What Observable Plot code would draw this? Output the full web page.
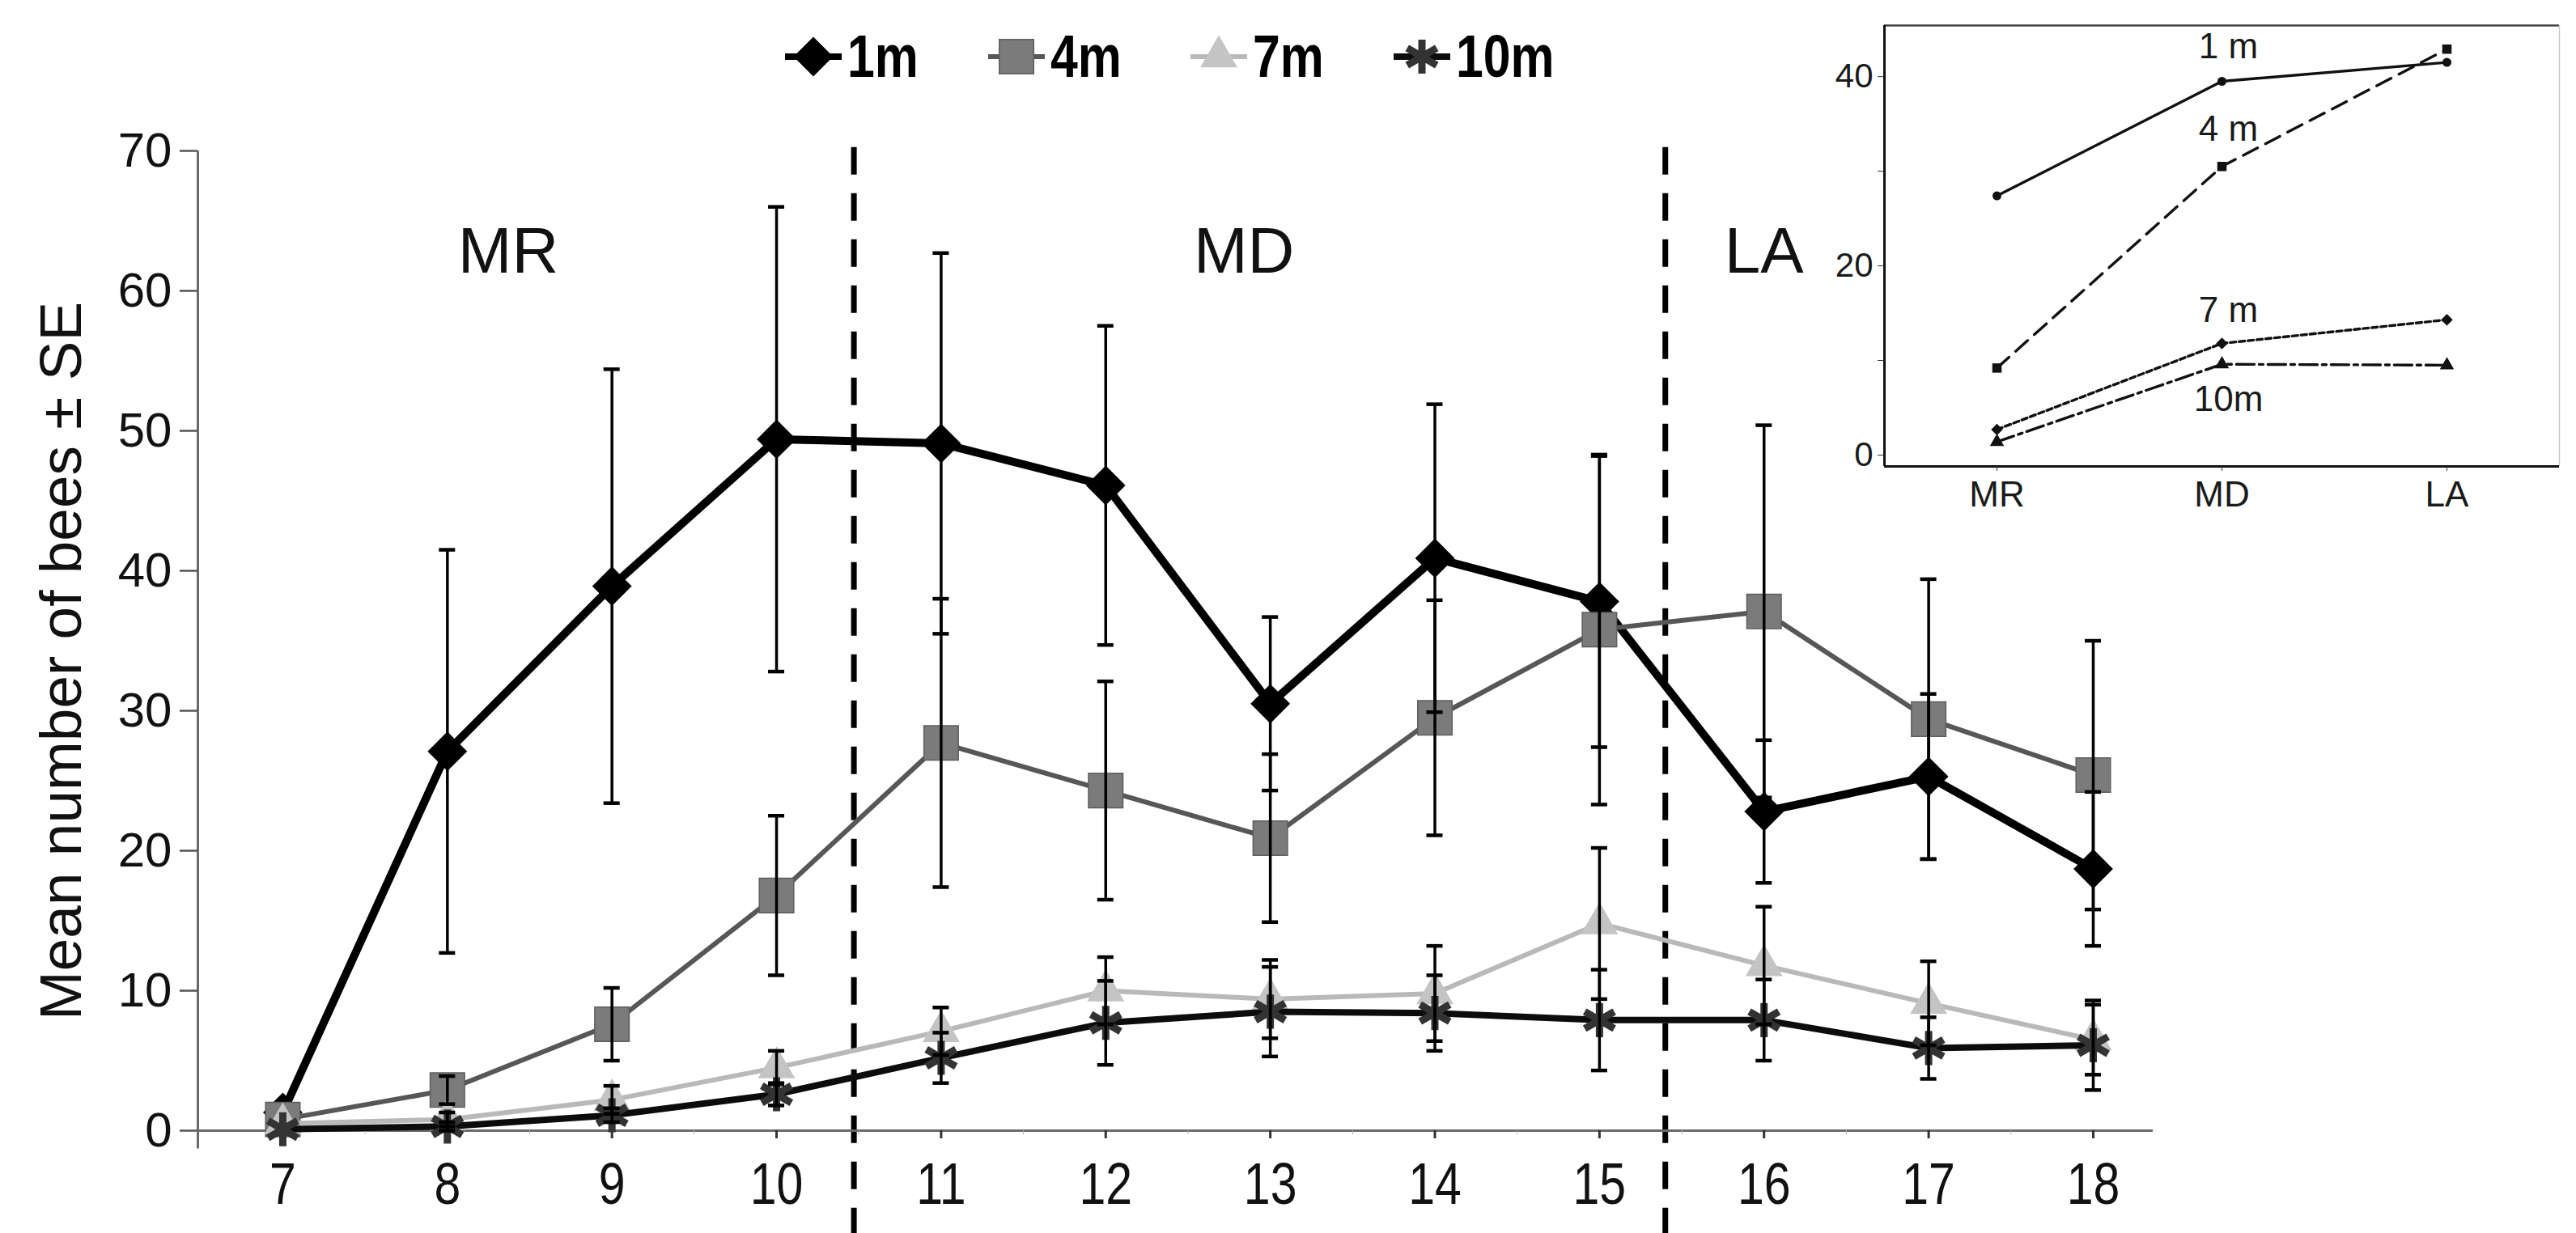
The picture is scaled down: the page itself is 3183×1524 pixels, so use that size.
<!DOCTYPE html>
<html>
<head>
<meta charset="utf-8">
<script src="https://cdn.jsdelivr.net/npm/d3@7"></script>
<script src="https://cdn.jsdelivr.net/npm/@observablehq/plot@0.6"></script>
<style>
html, body { margin: 0; padding: 0; background: #fff; }
#wrap { position: relative; width: 3183px; height: 1524px; overflow: hidden; background: #fff;
  font-family: "Liberation Sans", Arial, sans-serif; }
#main { position: absolute; left: 0; top: 0; }
#inset { position: absolute; left: 2200px; top: 0; }
#legend { position: absolute; left: 970px; top: 20px; display: flex; align-items: center; gap: 86px; }
.item { display: flex; align-items: center; }
.item span { display: inline-block; font-family: "Liberation Sans", Arial, sans-serif; font-weight: bold;
  font-size: 74px; line-height: 100px; margin-left: 7px; color: #000;
  transform: scaleX(0.82); transform-origin: left center; }
</style>
</head>
<body>
<div id="wrap">
  <div id="main"></div>
  <div id="inset"></div>
  <div id="legend"></div>
</div>
<script>
// ---------- main chart data ----------
const days = [7, 8, 9, 10, 11, 12, 13, 14, 15, 16, 17, 18];
const seriesNames = ["1m", "4m", "7m", "10m"];
const mean1m  = [1.3, 27.1, 38.9, 49.4, 49.1, 46.1, 30.5, 40.9, 37.8, 22.8, 25.3, 18.7];
const se1m    = [0, 14.4, 15.5, 16.6, 13.6, 11.4, 6.2, 11.0, 10.4, 5.1, 5.9, 5.5];
const mean4m  = [0.8, 2.9, 7.6, 16.8, 27.7, 24.3, 20.9, 29.5, 35.8, 37.1, 29.4, 25.4];
const se4m    = [0, 1.0, 2.6, 5.7, 10.3, 7.8, 6.0, 8.4, 12.5, 13.3, 10.0, 9.6];
const mean7m  = [0.5, 0.8, 2.2, 4.5, 7.1, 10.0, 9.4, 9.8, 14.8, 11.8, 9.1, 6.5];
const se7m    = [0, 0.5, 1.0, 1.2, 1.7, 2.4, 2.8, 3.4, 5.4, 4.2, 3.0, 2.5];
const mean10m = [0.1, 0.3, 1.1, 2.6, 5.2, 7.7, 8.5, 8.4, 7.9, 7.9, 5.9, 6.1];
const se10m   = [0, 0.3, 0.5, 0.8, 1.8, 3.0, 3.2, 2.7, 3.6, 2.9, 2.2, 3.2];
const yTicks = [0, 10, 20, 30, 40, 50, 60, 70];
const yLabel = "Mean number of bees \u00b1 SE";
const phaseNames = ["MR", "MD", "LA"];
const phaseLabelX = [8.37, 12.84, 16.0];
const phaseLabelY = 62.8;
const phaseBreaks = [10.47, 15.4];

// ---------- inset data ----------
const periods = ["MR", "MD", "LA"];
const inset1m  = [27.4, 39.5, 41.5];
const inset4m  = [9.2, 30.5, 42.9];
const inset7m  = [2.7, 11.8, 14.3];
const inset10m = [1.4, 9.6, 9.5];
const insetNames = ["1 m", "4 m", "7 m", "10m"];
const insetLabelY = [43.1, 34.4, 15.3, 5.9];
const insetLabelAt = "MD";
const insetYTicks = [0, 10, 20, 30, 40];

// ---------- scales / layout ----------
const W = 3183, H = 1524;
const xDomain = [6.484, 18.364];
const yDomain = [0, 70];
const yAxisExtent = [-1.3, 70];
const dashExtent = [-7.5, 70.5];

const styles = {
  "1m":  {line: "#000", lw: 10,  symbol: "diamond2", r: 22, fill: "#000", stroke: "none", sw: 0},
  "4m":  {line: "#575757", lw: 6, symbol: "square", r: 24, fill: "#7b7b7b", stroke: "#5e5e5e", sw: 1.5},
  "7m":  {line: "#b9b9b9", lw: 6, symbol: "triangle", r: 17, fill: "#c4c4c4", stroke: "none", sw: 0},
  "10m": {line: "#0c0c0c", lw: 8, symbol: "asterisk", r: 20, fill: "none", stroke: "#333", sw: 9}
};

const means = {"1m": mean1m, "4m": mean4m, "7m": mean7m, "10m": mean10m};
const ses = {"1m": se1m, "4m": se4m, "7m": se7m, "10m": se10m};
const rows = [];
for (const s of seriesNames) days.forEach((d, i) => rows.push({series: s, day: d, value: means[s][i], se: ses[s][i]}));
const errRows = rows.filter(d => d.se > 0);

const seriesMarks = [];
for (const s of seriesNames) {
  const st = styles[s];
  const data = rows.filter(d => d.series === s);
  seriesMarks.push(Plot.line(data, {x: "day", y: "value", stroke: st.line, strokeWidth: st.lw, strokeLinejoin: "round"}));
  seriesMarks.push(Plot.dot(data, {x: "day", y: "value", symbol: st.symbol, r: st.r, fill: st.fill, stroke: st.stroke, strokeWidth: st.sw}));
}

const main = Plot.plot({
  width: W, height: H,
  marginLeft: 244, marginRight: W - 2660, marginTop: 186, marginBottom: H - 1397,
  x: {domain: xDomain},
  y: {domain: yDomain},
  style: {fontFamily: "Liberation Sans, Arial, sans-serif", color: "#111", background: "transparent", overflow: "visible"},
  marks: [
    Plot.ruleX(phaseBreaks, {y1: dashExtent[0], y2: dashExtent[1], stroke: "#000", strokeWidth: 7, strokeDasharray: "34,23"}),
    Plot.ruleY([0], {stroke: "#6a6a6a", strokeWidth: 3}),
    Plot.ruleX([xDomain[0]], {y1: yAxisExtent[0], y2: yAxisExtent[1], stroke: "#6a6a6a", strokeWidth: 3}),
    Plot.axisY({ticks: yTicks, tickSize: 22, tickPadding: 10, stroke: "#555", strokeWidth: 2.5, fontSize: 60, label: null}),
    Plot.text([yLabel], {frameAnchor: "left", rotate: -90, lineAnchor: "top", textAnchor: "middle", dx: -196, dy: 25, fontSize: 73,
      fill: "#111", ariaLabel: "y label"}),
    Plot.axisX({ticks: days, tickSize: 10, tickPadding: 29, stroke: "#333", strokeWidth: 3, fontSize: 72, label: null}),
    Plot.axisX({ticks: days.slice(0, -1).map(d => d + 0.5), tickSize: 5, tickFormat: () => "", stroke: "#aaa", label: null}),
    ...seriesMarks,
    Plot.ruleX(errRows, {x: "day", y1: d => d.value - d.se, y2: d => d.value + d.se, stroke: "#000", strokeWidth: 3.5}),
    Plot.ruleY(errRows, {x1: "day", x2: "day", y: d => d.value + d.se, insetLeft: -10, insetRight: -10, stroke: "#000", strokeWidth: 4.5}),
    Plot.ruleY(errRows, {x1: "day", x2: "day", y: d => d.value - d.se, insetLeft: -10, insetRight: -10, stroke: "#000", strokeWidth: 4.5}),
    Plot.text(phaseNames, {x: (d, i) => phaseLabelX[i], y: () => phaseLabelY, text: d => d, fontSize: 80,
      fill: "#111", ariaLabel: "phase label"})
  ]
});
document.getElementById("main").appendChild(main);

// narrow (condensed) look for some texts, as in the reference
function squeeze(el, sx, sy) {
  const t = el.getAttribute("transform");
  if (t) el.setAttribute("transform", t + ` scale(${sx},${sy})`);
  else {
    const x = +el.getAttribute("x") || 0, y = +el.getAttribute("y") || 0;
    el.setAttribute("transform", `translate(${x},${y}) scale(${sx},${sy}) translate(${-x},${-y})`);
  }
}
main.querySelectorAll('[aria-label="x-axis tick label"] text').forEach(el => squeeze(el, 0.82, 1));
main.querySelectorAll('[aria-label="phase label"] text').forEach(el => squeeze(el, 0.84, 1));

// ---------- inset ----------
const insetX = [-0.5, 2.5];
const insetY = [-1.2, 45.4];
const insetSeries = [
  {name: "1m", vals: inset1m, dash: null, symbol: "circle", r: 5.5},
  {name: "4m", vals: inset4m, dash: "20,11", symbol: "square", r: 6.5},
  {name: "7m", vals: inset7m, dash: "7,4", symbol: "diamond2", r: 6.5},
  {name: "10m", vals: inset10m, dash: "22,6,5,6", symbol: "triangle", r: 6.5}
];
const insetMarks = [];
for (const s of insetSeries) {
  const data = periods.map((p, i) => ({i, v: s.vals[i]}));
  insetMarks.push(Plot.line(data, {x: "i", y: "v", stroke: "#111", strokeWidth: 3.4, strokeDasharray: s.dash}));
  insetMarks.push(Plot.dot(data, {x: "i", y: "v", symbol: s.symbol, r: s.r, fill: "#111"}));
}
const inset = Plot.plot({
  width: 983, height: 650,
  marginLeft: 128, marginRight: 21, marginTop: 31, marginBottom: 74,
  x: {domain: insetX},
  y: {domain: insetY},
  style: {fontFamily: "Liberation Sans, Arial, sans-serif", color: "#1a1a1a", background: "transparent", overflow: "visible"},
  marks: [
    Plot.ruleY([insetY[1]], {stroke: "#444", strokeWidth: 2.5}),
    Plot.ruleX([insetX[1]], {stroke: "#c8c8c8", strokeWidth: 1.5}),
    Plot.ruleY([insetY[0]], {stroke: "#111", strokeWidth: 3}),
    Plot.ruleX([insetX[0]], {stroke: "#111", strokeWidth: 3}),
    Plot.axisY({ticks: insetYTicks, tickFormat: d => (d % 20 === 0 ? d : ""), tickSize: 8, tickPadding: 6, fontSize: 42, stroke: "#333", label: null}),
    Plot.axisX({ticks: [0, 1, 2], tickFormat: i => periods[i], tickSize: 6, tickPadding: 12, fontSize: 44, stroke: "#333", label: null}),
    ...insetMarks,
    Plot.text(insetNames, {x: () => periods.indexOf(insetLabelAt), y: (d, i) => insetLabelY[i], text: d => d, dx: 8, fontSize: 44, fill: "#1a1a1a"})
  ]
});
document.getElementById("inset").appendChild(inset);

// ---------- legend ----------
const legend = document.getElementById("legend");
const symMap = {diamond2: d3.symbolDiamond2, square: d3.symbolSquare, triangle: d3.symbolTriangle, asterisk: d3.symbolAsterisk};
for (const s of seriesNames) {
  const st = styles[s];
  const item = document.createElement("div");
  item.className = "item";
  const svg = d3.create("svg").attr("width", 70).attr("height", 100);
  svg.append("line").attr("x1", 0).attr("x2", 70).attr("y1", 50).attr("y2", 50)
    .attr("stroke", st.line).attr("stroke-width", Math.min(st.lw, 8));
  svg.append("path").attr("transform", "translate(35,50)")
    .attr("d", d3.symbol(symMap[st.symbol], Math.PI * st.r * st.r)())
    .attr("fill", st.fill).attr("stroke", st.stroke).attr("stroke-width", st.sw);
  item.appendChild(svg.node());
  const span = document.createElement("span");
  span.textContent = s;
  item.appendChild(span);
  legend.appendChild(item);
  // compensate layout width for the horizontal squeeze
  span.style.marginRight = (-span.getBoundingClientRect().width * 0.18 / 0.82) + "px";
}
</script>
</body>
</html>
